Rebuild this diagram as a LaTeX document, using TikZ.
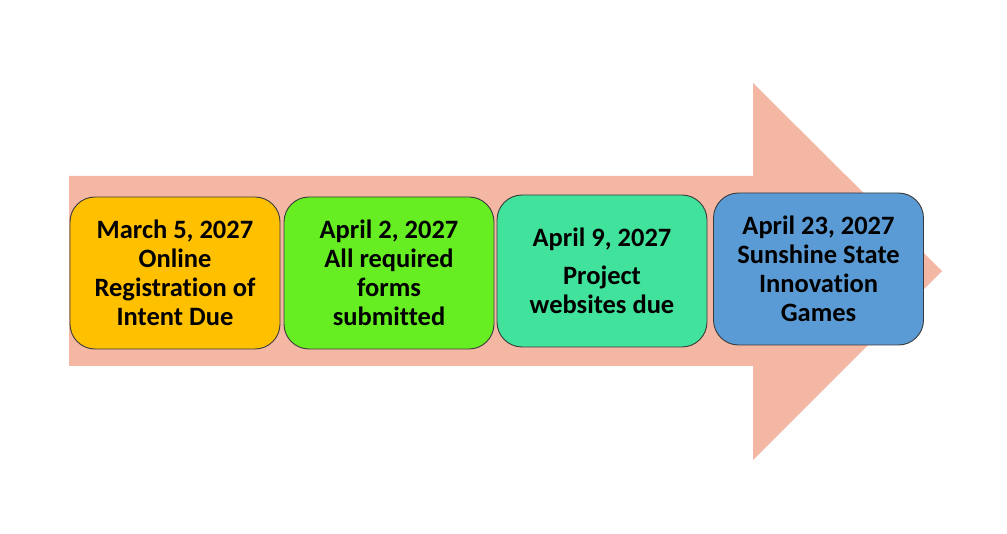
\documentclass[tikz,border=0pt]{standalone}
\usepackage{fontspec}
\setmainfont[Ligatures=NoCommon]{Carlito}
\definecolor{arrowc}{HTML}{F4B7A4}
\definecolor{c1}{HTML}{FFC000}
\definecolor{c2}{HTML}{66EE22}
\definecolor{c3}{HTML}{41E29B}
\definecolor{c4}{HTML}{5B9BD5}
\definecolor{edge}{HTML}{3A3A3A}
\tikzset{
  evbox/.style={draw=edge, line width=0.9pt, rounded corners=25pt, minimum width=210pt, minimum height=152pt,
    align=center, inner sep=0pt, font=\fontsize{26.5}{29.2}\selectfont\bfseries, text=black}
}
\begin{document}
\begin{tikzpicture}[x=1pt,y=-1pt]
\useasboundingbox (0,0) rectangle (1007,534);
\fill[white] (0,0) rectangle (1007,534);
\fill[arrowc] (69,176) -- (753,176) -- (753,83) -- (942,271) -- (753,460) -- (753,366) -- (69,366) -- cycle;
\node[evbox, fill=c1] (b1) at (175,273) {March 5, 2027\\Online\\Registration of\\Intent Due};
\node[evbox, fill=c2] (b2) at (389,273) {April 2, 2027\\All required\\forms\\submitted};
\node[evbox, fill=c3] (b3) at (602,271) {April 9, 2027\\[9pt]Project\\websites due};
\node[evbox, fill=c4] (b4) at (818.5,269) {April 23, 2027\\Sunshine State\\Innovation\\Games};
\end{tikzpicture}
\end{document}
